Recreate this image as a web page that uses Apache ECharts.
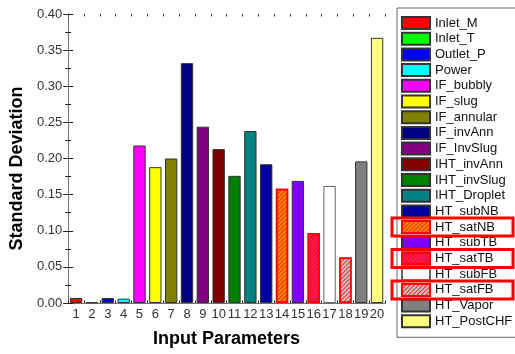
<!DOCTYPE html>
<html>
<head>
<meta charset="utf-8">
<script src="https://cdn.jsdelivr.net/npm/echarts@6/dist/echarts.min.js"></script>
<style>html,body{margin:0;padding:0;background:#fff}#c{width:515px;height:354px}</style>
</head>
<body>
<div id="c"></div>
<script>
const categories = ['1','2','3','4','5','6','7','8','9','10','11','12','13','14','15','16','17','18','19','20'];
const names = ['Inlet_M','Inlet_T','Outlet_P','Power','IF_bubbly','IF_slug','IF_annular','IF_invAnn','IF_InvSlug','IHT_invAnn','IHT_invSlug','IHT_Droplet','HT_subNB','HT_satNB','HT_subTB','HT_satTB','HT_subFB','HT_satFB','HT_Vapor','HT_PostCHF'];
const values = [0.007,0.001,0.007,0.006,0.218,0.188,0.200,0.332,0.244,0.213,0.176,0.238,0.192,0.158,0.169,0.097,0.162,0.063,0.196,0.367];
const colors = ['#ff0000','#00ff00','#0000ff','#00ffff','#ff00ff','#ffff00','#808000','#000080','#800080','#800000','#008000','#008080','#0000a0','#ff8c00','#8000ff','#ff1a5a','#ffffff','#d0c0c0','#808080','#ffff80'];
const hatched = [13,15,17];
const highlighted = [13,15,17];

const chart = echarts.init(document.getElementById('c'), null, {renderer:'canvas'});
const FONT = 'Arial, "Liberation Sans", sans-serif';

const series = names.map((n,i)=>{
  const d = categories.map((c,j)=> j===i ? values[i] : '-');
  const isH = hatched.indexOf(i) >= 0;
  const style = {
    color: colors[i],
    borderColor: isH ? '#ff0000' : (i===16 ? '#666' : '#333'),
    borderWidth: isH ? 1.5 : 1
  };
  if (isH) {
    style.decal = {symbol:'rect', symbolSize:1, dashArrayX:[1,0], dashArrayY:[1,2], rotation:-Math.PI/4, color:'rgba(230,0,0,0.75)'};
  }
  return {name:n, type:'bar', stack:'s', data:d, barWidth:'78%', itemStyle:style, xAxisIndex:0, yAxisIndex:0, silent:true};
});

// legend geometry
const LEG_LEFT = 397, LEG_TOP = 8, LEG_PAD_TOP = 8, ROW = 15.7, TEXT_H = 14;
const graphics = highlighted.map(i=>({
  type:'rect', z:100,
  shape:{x:392, y:LEG_TOP+LEG_PAD_TOP+i*ROW-2, width:121, height:TEXT_H+4},
  style:{fill:'none', stroke:'#ff0000', lineWidth:3}
}));

const axisLineStyle = {color:'#707070', width:1};
chart.setOption({
  animation:false,
  grid:{left:66, right:130, top:14, bottom:51},
  legend:{
    orient:'vertical', left:LEG_LEFT, top:LEG_TOP,
    padding:[LEG_PAD_TOP,18,9,4],
    icon:'rect',
    itemWidth:28, itemHeight:12, itemGap:ROW-TEXT_H,
    borderColor:'#666', borderWidth:1,
    textStyle:{fontFamily:FONT, fontSize:13, color:'#111', lineHeight:TEXT_H},
    data:names, selectedMode:false
  },
  xAxis:[
    {type:'category', data:categories, position:'bottom',
     axisLine:{lineStyle:axisLineStyle},
     axisTick:{inside:true, alignWithLabel:true, length:5, lineStyle:{color:'#222'}},
     axisLabel:{fontFamily:FONT, fontSize:13, color:'#333', margin:5, interval:0},
     name:'Input Parameters', nameLocation:'middle', nameGap:27,
     nameTextStyle:{fontFamily:FONT, fontSize:18, fontWeight:'bold', color:'#000'}},
    {type:'category', data:categories, position:'top',
     axisLine:{lineStyle:axisLineStyle},
     axisTick:{inside:true, alignWithLabel:true, length:5, lineStyle:{color:'#222'}},
     axisLabel:{show:false}},
    {type:'value', min:0, max:20, interval:1, position:'top',
     axisLine:{show:false}, splitLine:{show:false},
     axisTick:{inside:true, length:2.5, lineStyle:{color:'#222'}},
     axisLabel:{show:false}},
    {type:'value', min:0, max:20, interval:1, position:'bottom',
     axisLine:{show:false}, splitLine:{show:false},
     axisTick:{inside:true, length:2.5, lineStyle:{color:'#222'}},
     axisLabel:{show:false}}
  ],
  yAxis:[
    {type:'value', min:0, max:0.4, interval:0.05, position:'left',
     axisLine:{show:true, lineStyle:axisLineStyle},
     axisTick:{show:true, inside:true, length:5, lineStyle:{color:'#222'}},
     minorTick:{show:true, splitNumber:2, length:3, lineStyle:{color:'#222'}},
     splitLine:{show:false},
     axisLabel:{fontFamily:FONT, fontSize:13, color:'#333', margin:6, formatter:v=>v.toFixed(2)},
     name:'Standard Deviation', nameLocation:'middle', nameGap:40,
     nameTextStyle:{fontFamily:FONT, fontSize:18, fontWeight:'bold', color:'#000', padding:[0,20,0,0]}},
    {type:'value', min:0, max:0.4, interval:0.05, position:'right',
     axisLine:{show:true, lineStyle:axisLineStyle},
     axisTick:{show:true, inside:true, length:5, lineStyle:{color:'#222'}},
     minorTick:{show:true, splitNumber:2, length:3, lineStyle:{color:'#222'}},
     splitLine:{show:false}, axisLabel:{show:false}}
  ],
  graphic:graphics,
  series:series
});
</script>
</body>
</html>
